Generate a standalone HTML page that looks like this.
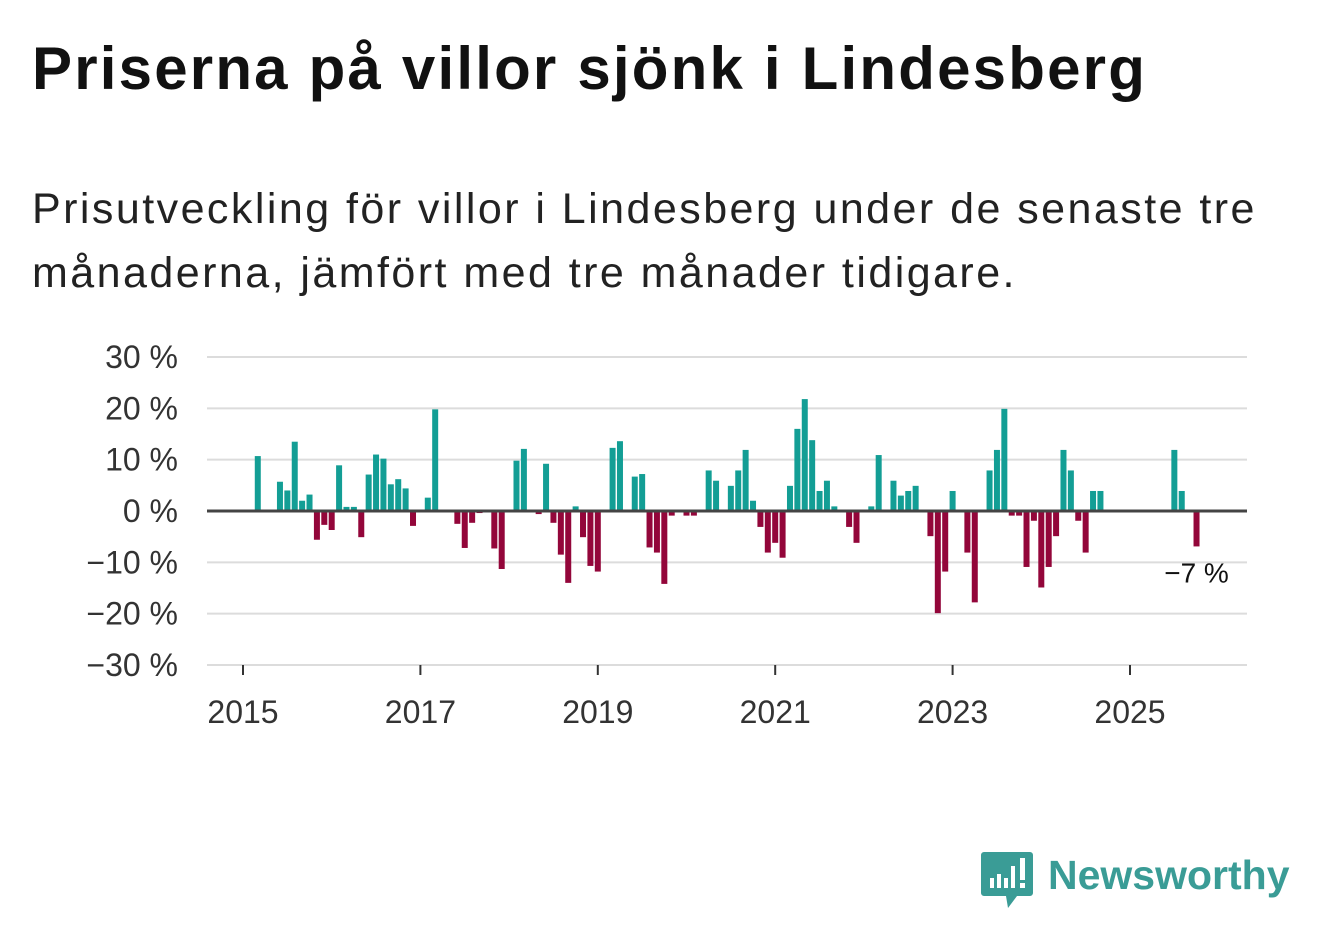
<!DOCTYPE html>
<html><head><meta charset="utf-8">
<style>
body{margin:0;background:#fff;width:1322px;height:939px;overflow:hidden;font-family:"Liberation Sans",sans-serif;}
h1{position:absolute;left:32px;top:34px;margin:0;font-size:60px;font-weight:bold;color:#111;letter-spacing:2.2px;white-space:nowrap;}
.sub{position:absolute;left:32px;top:177px;margin:0;font-size:43px;line-height:64px;color:#222;width:1285px;letter-spacing:2.45px;}
svg{position:absolute;left:0;top:0;}
</style></head>
<body>
<h1>Priserna på villor sjönk i Lindesberg</h1>
<p class="sub">Prisutveckling för villor i Lindesberg under de senaste tre månaderna, jämfört med tre månader tidigare.</p>
<svg id="chart" width="1322" height="939"></svg>
<script>
const startYear = 2015;
const yTicks = [30,20,10,0,-10,-20,-30];
const xTickYears = [2015,2017,2019,2021,2023,2025];
// monthly values starting Jan 2015 (null = no data)
const values = [null,null,10.7,null,null,5.7,4.0,13.5,2.0,3.2,-5.6,-2.7,
-3.7,8.9,0.8,0.8,-5.1,7.1,11.0,10.2,5.2,6.2,4.4,-2.9,
null,2.6,19.8,null,null,-2.5,-7.2,-2.3,-0.4,null,-7.3,-11.3,
null,9.8,12.1,null,-0.6,9.2,-2.3,-8.5,-14.0,0.9,-5.1,-10.7,
-11.8,null,12.3,13.6,null,6.7,7.2,-7.1,-8.1,-14.2,-0.9,null,
-0.9,-0.9,null,7.9,5.9,null,4.9,7.9,11.9,2.0,-3.1,-8.1,
-6.2,-9.1,4.9,16.0,21.8,13.8,3.9,5.9,0.9,null,-3.1,-6.2,
null,0.9,10.9,null,5.9,3.0,3.9,4.9,null,-4.9,-19.9,-11.8,
3.9,null,-8.1,-17.8,null,7.9,11.9,19.9,-0.9,-0.9,-10.9,-1.9,
-14.9,-10.9,-4.9,11.9,7.9,-1.9,-8.1,3.9,3.9,null,null,null,
null,null,null,null,null,null,11.9,3.9,null,-6.9];
const lastLabel = "−7 %";

const NS="http://www.w3.org/2000/svg";
const svg=document.getElementById('chart');
const x0=207,x1=1247,yTop=357,yBot=665;
function y(v){return 511-(v/30)*(511-yTop);}
function xm(i){return 243+i*(88.7/12);}
function mk(t,a){const e=document.createElementNS(NS,t);for(const k in a)e.setAttribute(k,a[k]);svg.appendChild(e);return e;}
yTicks.forEach(t=>{
  if(t!==0){const g=mk('line',{x1:x0,x2:x1,y1:y(t),y2:y(t),stroke:'#dcdcdc','stroke-width':2});
  
  }
  const l=mk('text',{x:178,y:y(t)+11,'text-anchor':'end','font-size':32,fill:'#333'});
  l.textContent=(t<0?'−'+(-t):t)+' %';
  
  
});
xTickYears.forEach(yr=>{
  const xx=xm((yr-startYear)*12);
  const tk=mk('line',{x1:xx,x2:xx,y1:665,y2:675,stroke:'#333','stroke-width':2});
  
  
  const l=mk('text',{x:xx,y:723,'text-anchor':'middle','font-size':32,fill:'#333'});
  l.textContent=yr;
  
  
});
values.forEach((v,i)=>{
  if(v===null)return;
  const cx=xm(i);
  const top=v>=0?y(v):511, h=Math.abs(y(v)-511);
  const r=mk('rect',{x:cx-3,y:top,width:6,height:h,fill:v>=0?'#139e95':'#93063a'});
  
  
});
const z=mk('line',{x1:x0,x2:x1,y1:511,y2:511,stroke:'#444','stroke-width':3});


const li=values.length-1;
const lab=mk('text',{x:xm(li),y:y(values[li])+36,'text-anchor':'middle','font-size':28,fill:'#111'});
lab.textContent=lastLabel;


</script>
<svg width="1322" height="939" style="pointer-events:none">
  <path d="M984 852 h46 a3 3 0 0 1 3 3 v38 a3 3 0 0 1 -3 3 h-13 l-9 12 l-2 -12 h-22 a3 3 0 0 1 -3 -3 v-38 a3 3 0 0 1 3 -3z" fill="#3a9c96"/>
  <rect x="990" y="878" width="4" height="10" fill="#fff"/>
  <rect x="997" y="874" width="4" height="14" fill="#fff"/>
  <rect x="1004" y="878" width="4" height="10" fill="#fff"/>
  <rect x="1011" y="866" width="4" height="22" fill="#fff"/>
  <rect x="1020" y="858" width="5" height="22" fill="#fff"/>
  <rect x="1020" y="883" width="5" height="5" fill="#fff"/>
  <text x="1048" y="889" font-size="41" font-weight="bold" fill="#3a9c96" font-family="Liberation Sans, sans-serif">Newsworthy</text>
</svg>
</body></html>
